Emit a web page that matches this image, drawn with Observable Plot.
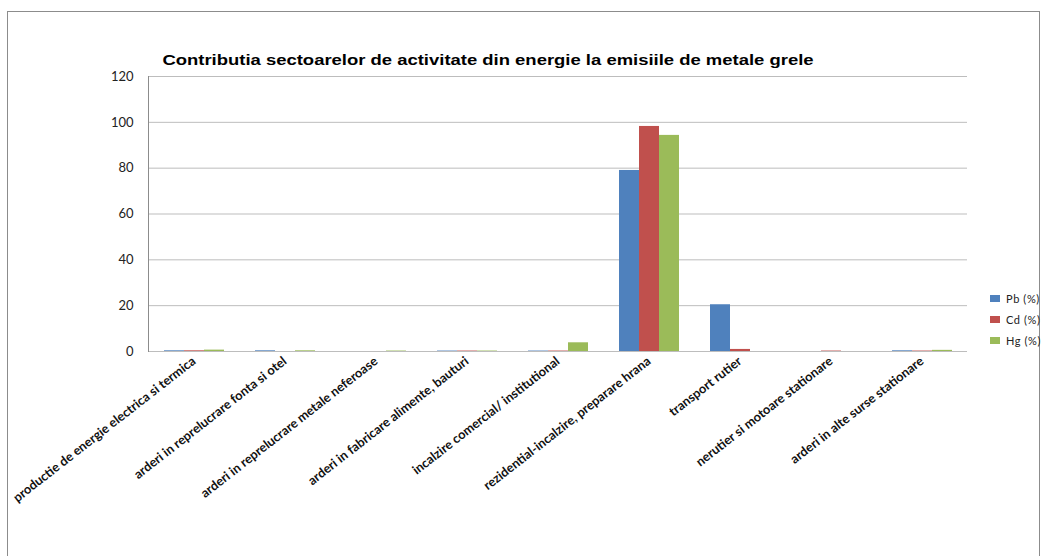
<!DOCTYPE html>
<html>
<head>
<meta charset="utf-8">
<script src="https://cdn.jsdelivr.net/npm/d3@7"></script>
<script src="https://cdn.jsdelivr.net/npm/@observablehq/plot@0.6"></script>
<style>
  body { margin: 0; background: #fff; }
  #wrap { position: relative; width: 1045px; height: 556px; overflow: hidden; background: #fff; }
  #border { position: absolute; left: 7px; top: 11px; width: 1033px; height: 600px; border: 1px solid #8c8c8c; box-sizing: border-box; }
  #chart { position: absolute; left: 0; top: 0; }
  #title { position: absolute; left: 0; width: 976px; top: 51px; text-align: center; font: bold 15px "Liberation Sans", Arial, sans-serif; color: #000; transform: scaleX(1.23); transform-origin: 488px 0; }
  #legend { position: absolute; left: 990px; top: 288px; font: 11px Lato, sans-serif; color: #222; letter-spacing: 0.6px; }
  #legend .item { display: flex; align-items: center; height: 21px; }
  #legend .sw { width: 10px; height: 7px; margin-right: 6px; }
</style>
</head>
<body>
<div id="wrap">
  <div id="border"></div>
  <div id="chart"></div>
  <div id="title"></div>
  <div id="legend"></div>
</div>
<script>
const titleText = "Contributia sectoarelor de activitate din energie la emisiile de metale grele";
const categories = [
  "productie de energie electrica si termica",
  "arderi in reprelucrare fonta si otel",
  "arderi in reprelucrare metale neferoase",
  "arderi in fabricare alimente, bauturi",
  "incalzire comercial/ institutional",
  "rezidential-incalzire, preparare hrana",
  "transport rutier",
  "nerutier si motoare stationare",
  "arderi in alte surse stationare"
];
const series = ["Pb (%)", "Cd (%)", "Hg (%)"];
const pbValues = [0.3, 0.3, 0, 0.2, 0.2, 79.0, 20.4, 0, 0.3];
const cdValues = [0.3, 0, 0, 0.2, 0.2, 98.2, 0.9, 0.2, 0.2];
const hgValues = [0.6, 0.3, 0.2, 0.2, 3.8, 94.3, 0, 0, 0.5];
const yTicks = [0, 20, 40, 60, 80, 100, 120];
const colors = ["#4F81BD", "#C0504D", "#9BBB59"];

const valuesBySeries = [pbValues, cdValues, hgValues];
const data = categories.flatMap((cat, i) =>
  series.map((s, j) => ({ cat, s, v: valuesBySeries[j][i] }))
);

const chart = Plot.plot({
  width: 1045,
  height: 556,
  marginLeft: 145,
  marginRight: 75,
  marginTop: 76,
  marginBottom: 205,
  style: { fontFamily: "Lato, sans-serif", fontSize: "12px", color: "#222", background: "transparent" },
  fx: { domain: categories, padding: 0, label: null },
  x: { domain: series, axis: null, paddingInner: 0, paddingOuter: 0.745 },
  y: { domain: [0, 120], axis: null },
  color: { domain: series, range: colors },
  marks: [
    Plot.gridY(yTicks, { stroke: "#bdbdbd", strokeOpacity: 1, strokeWidth: 1 }),
    Plot.barY(data, { fx: "cat", x: "s", y: "v", fill: "s" }),
    Plot.ruleY([0], { stroke: "#bdbdbd", strokeWidth: 1.2 }),
    Plot.frame({ anchor: "left", facetAnchor: "left", stroke: "#8c8c8c" }),
    Plot.axisY(yTicks, { anchor: "left", tickSize: 0, tickPadding: 15, label: null, fontSize: 13, fill: "#222" }),
    Plot.axisFx({ anchor: "bottom", tickSize: 0, tickPadding: 8, tickRotate: -38, label: null, fontSize: 12.8, fontWeight: "bold", fill: "#111" })
  ]
});
document.getElementById("chart").appendChild(chart);

document.getElementById("title").textContent = titleText;
const legend = d3.select("#legend");
series.forEach((s, i) => {
  const item = legend.append("div").attr("class", "item");
  item.append("div").attr("class", "sw").style("background", colors[i]);
  item.append("span").text(s);
});
</script>
</body>
</html>
